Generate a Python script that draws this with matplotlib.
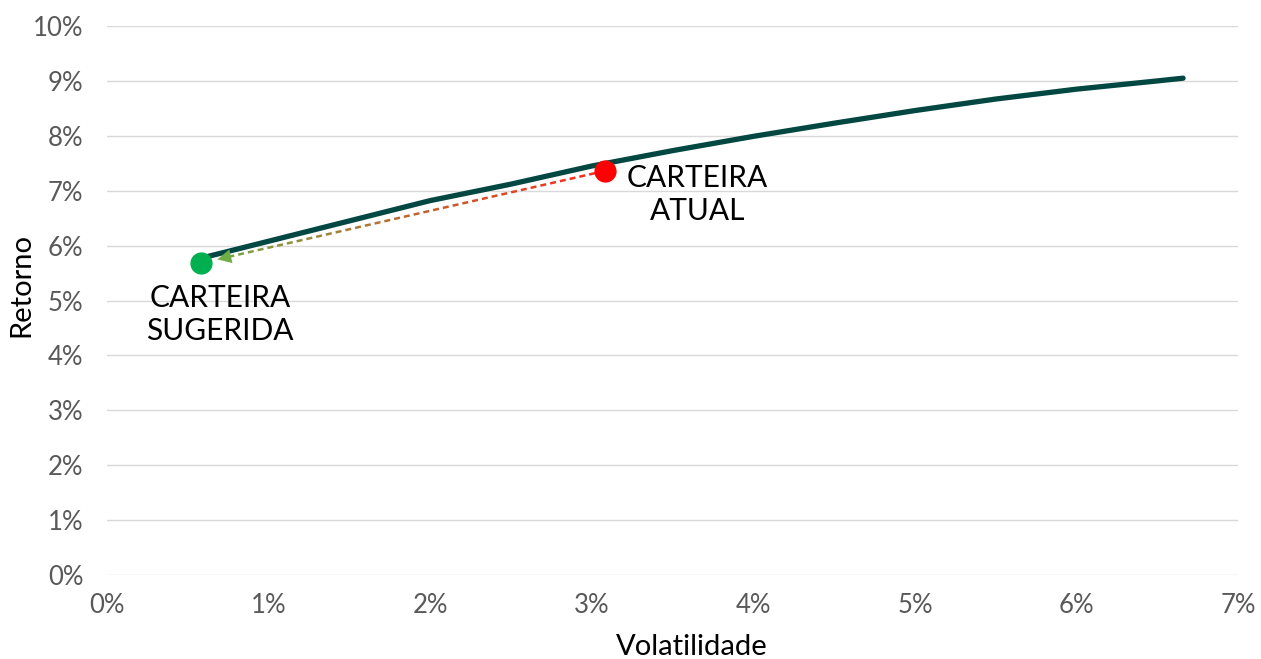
import numpy as np
import matplotlib
matplotlib.use("Agg")
import matplotlib.pyplot as plt
from matplotlib.ticker import FuncFormatter, MultipleLocator
from matplotlib.collections import LineCollection

plt.rcParams['font.family'] = ['Lato', 'DejaVu Sans']

# Efficient frontier (volatility %, return %)
frontier_vol = [0.58, 1.0, 1.5, 2.0, 2.5, 3.0, 3.5, 4.0, 4.5, 5.0, 5.5, 6.0, 6.5, 6.66]
frontier_ret = [5.77, 6.08, 6.45, 6.82, 7.12, 7.45, 7.73, 7.99, 8.23, 8.46, 8.67, 8.85, 9.00, 9.05]

current_vol, current_ret = 3.08, 7.36
suggested_vol, suggested_ret = 0.58, 5.68

current_label = "CARTEIRA\nATUAL"
suggested_label = "CARTEIRA\nSUGERIDA"

fig = plt.figure(figsize=(12.61, 6.59), dpi=100)
ax = fig.add_axes([0.0849, 0.1275, 0.8969, 0.8330])

ax.set_xlim(0, 7)
ax.set_ylim(0, 10)
ax.xaxis.set_major_locator(MultipleLocator(1))
ax.yaxis.set_major_locator(MultipleLocator(1))
ax.xaxis.set_major_formatter(FuncFormatter(lambda v, p: f"{v:.0f}%"))
ax.yaxis.set_major_formatter(FuncFormatter(lambda v, p: f"{v:.0f}%"))
ax.grid(axis='y', color='#D9D9D9', linewidth=1.0)
ax.set_axisbelow(True)
for s in ax.spines.values():
    s.set_visible(False)
ax.tick_params(length=0, labelsize=18.5, labelcolor='#595959')
ax.tick_params(axis='y', pad=17)
ax.tick_params(axis='x', pad=13)

ax.plot(frontier_vol, frontier_ret, color='#034742', linewidth=3.8,
        solid_capstyle='round', zorder=3)

# gradient dashed arrow from current to suggested
c_red = np.array([1.0, 0.15, 0.1])
c_grn = np.array([0.44, 0.68, 0.28])
p0 = ax.transData.transform((current_vol, current_ret))
p1 = ax.transData.transform((suggested_vol, suggested_ret))
d = p1 - p0
L = np.hypot(*d)
u = d / L
start, end = 10.0, L - 22.0
dash, gap = 6.0, 4.0
segs, cols = [], []
s = start
while s < end:
    e = min(s + dash, end)
    a = p0 + u * s
    b = p0 + u * e
    segs.append([ax.transData.inverted().transform(a), ax.transData.inverted().transform(b)])
    t = (s + e) / 2 / L
    cols.append(tuple(c_red * (1 - t) + c_grn * t))
    s += dash + gap
lc = LineCollection(segs, colors=cols, linewidths=1.8, zorder=4)
ax.add_collection(lc)
tip = ax.transData.inverted().transform(p0 + u * (L - 17.0))
tail = ax.transData.inverted().transform(p0 + u * (L - 34.0))
ax.annotate('', xy=tip, xytext=tail,
            arrowprops=dict(arrowstyle='-|>,head_length=1.0,head_width=0.5',
                            color='#70AD47', lw=0, shrinkA=0, shrinkB=0), zorder=5)

ax.plot([current_vol], [current_ret], 'o', color='#FF0000', markersize=15, zorder=6)
ax.plot([suggested_vol], [suggested_ret], 'o', color='#00B050', markersize=15, zorder=6)

ax.annotate(current_label, xy=(current_vol, current_ret), xytext=(16, 5),
            textcoords='offset points', ha='left', va='top', multialignment='center',
            fontsize=21.5, color='black', zorder=7, linespacing=1.22)
ax.annotate(suggested_label, xy=(suggested_vol, suggested_ret), xytext=(14, -15),
            textcoords='offset points', ha='center', va='top', multialignment='center',
            fontsize=21.5, color='black', zorder=7, linespacing=1.22)

ax.set_xlabel("Volatilidade", fontsize=21, color='black')
ax.set_ylabel("Retorno", fontsize=21, color='black')
ax.xaxis.set_label_coords(0.517, -0.132)
ax.xaxis.label.set_va('center')
ax.yaxis.set_label_coords(-0.0755, 0.528)
ax.yaxis.label.set_va('center')

fig.savefig("out.png", dpi=100)
